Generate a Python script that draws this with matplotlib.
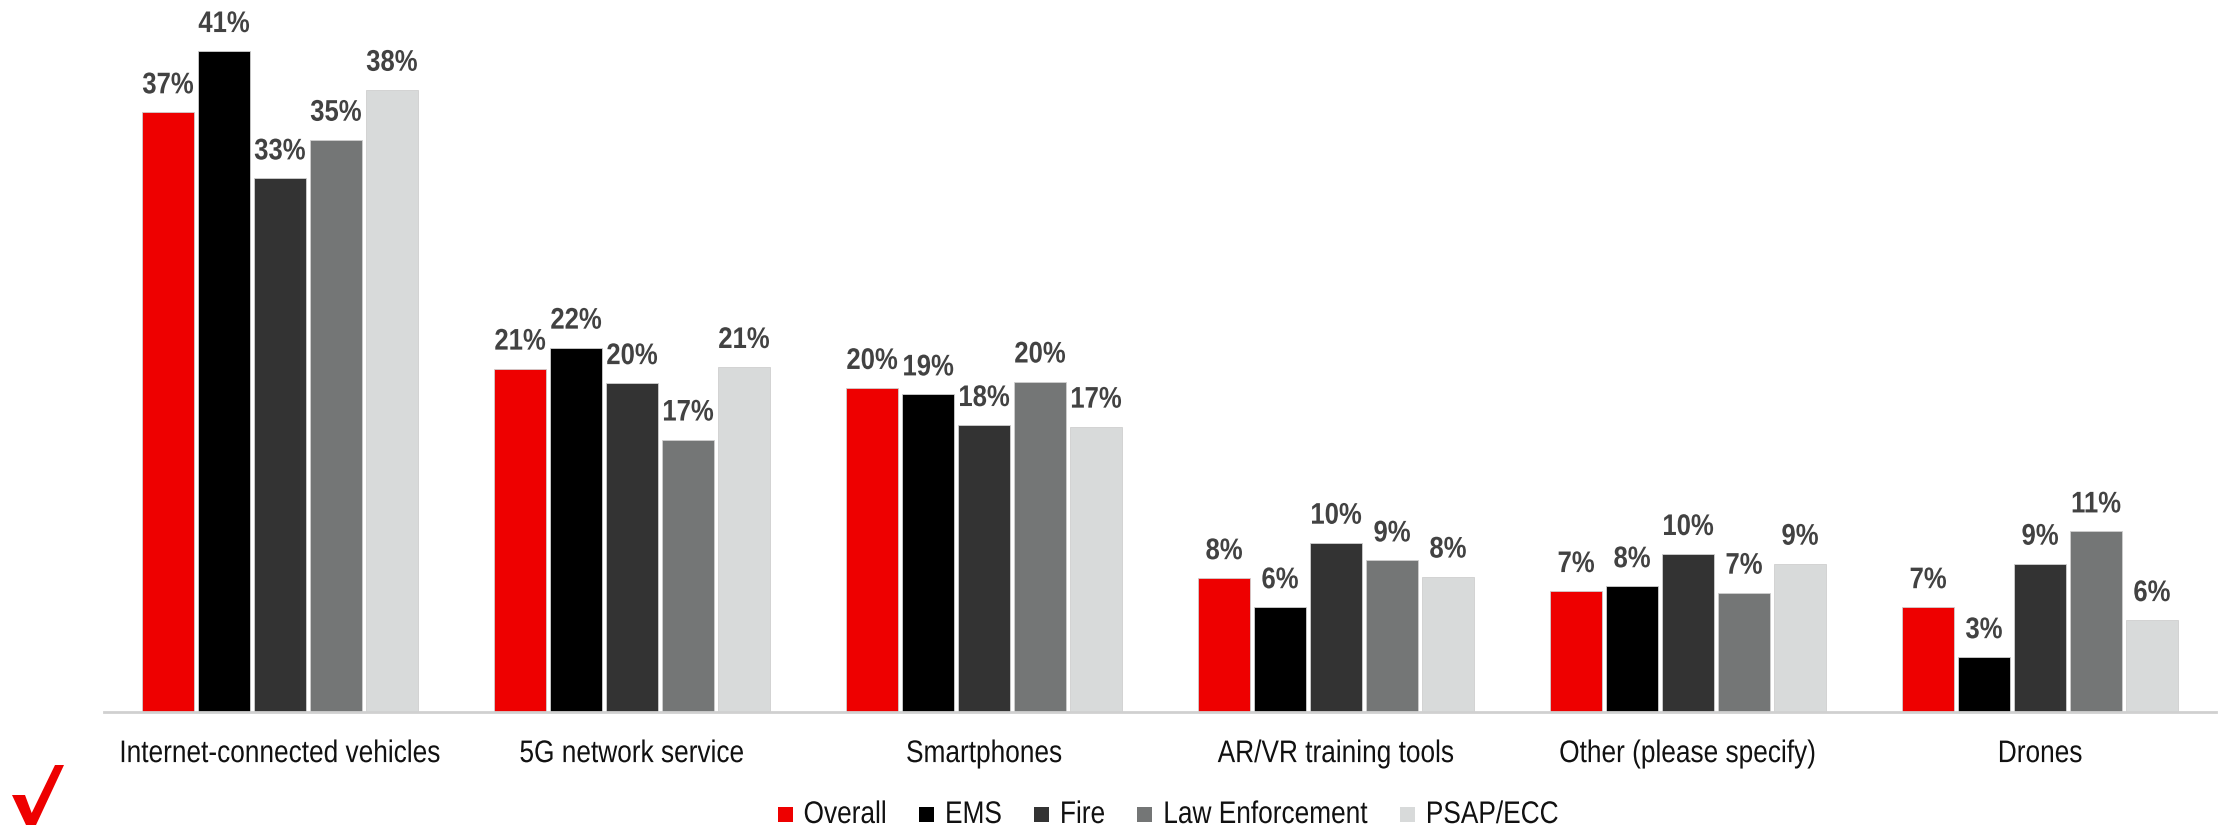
import matplotlib
matplotlib.use("Agg")
import matplotlib.pyplot as plt
from matplotlib.patches import Polygon, Rectangle
from matplotlib.patheffects import AbstractPathEffect
from matplotlib.transforms import Affine2D
import numpy as np

categories = ["Internet-connected vehicles", "5G network service", "Smartphones",
              "AR/VR training tools", "Other (please specify)", "Drones"]
series_names = ["Overall", "EMS", "Fire", "Law Enforcement", "PSAP/ECC"]
overall = [37.2, 21.3, 20.1, 8.3, 7.5, 6.5]
ems = [41.0, 22.6, 19.7, 6.5, 7.8, 3.4]
fire = [33.1, 20.4, 17.8, 10.5, 9.8, 9.2]
law = [35.5, 16.9, 20.5, 9.4, 7.4, 11.2]
psap = [38.6, 21.4, 17.7, 8.4, 9.2, 5.7]
labels_overall = ["37%", "21%", "20%", "8%", "7%", "7%"]
labels_ems = ["41%", "22%", "19%", "6%", "8%", "3%"]
labels_fire = ["33%", "20%", "18%", "10%", "10%", "9%"]
labels_law = ["35%", "17%", "20%", "9%", "7%", "11%"]
labels_psap = ["38%", "21%", "17%", "8%", "9%", "6%"]

series = [overall, ems, fire, law, psap]
series_labels = [labels_overall, labels_ems, labels_fire, labels_law, labels_psap]
colors = ["#EE0000", "#000000", "#333333", "#747676", "#D8DADA"]


class Condense(AbstractPathEffect):
    """Draw text horizontally condensed (emulates a narrow font face)."""

    def __init__(self, sx, anchor="center"):
        super().__init__()
        self.sx = sx
        self.anchor = anchor

    def draw_path(self, renderer, gc, tpath, affine, rgbFace=None):
        ext = tpath.get_extents()
        cx = (ext.x0 + ext.x1) / 2 if self.anchor == "center" else 0.0
        t = Affine2D().translate(-cx, 0).scale(self.sx, 1).translate(cx, 0) + affine
        renderer.draw_path(gc, tpath, t, rgbFace)


FONT = "Liberation Sans"
SX = 0.84

fig = plt.figure(figsize=(22.2, 8.26), dpi=100)
W, H = 2220, 826
ax = fig.add_axes([104 / W, 1 - 712 / H, 2112 / W, 712 / H])

x = np.arange(len(categories))
step = 0.159
bw = 0.150
for i, (vals, labs, c, nm) in enumerate(zip(series, series_labels, colors, series_names)):
    pos = x + (i - 2) * step
    ax.bar(pos, vals, width=bw, color=c, edgecolor="#cfcfcf", linewidth=0.6, label=nm, zorder=2)
    for px, v, lab in zip(pos, vals, labs):
        ax.annotate(lab, (px, v), xytext=(0, 13.7), textcoords="offset points",
                    ha="center", va="baseline", fontsize=21.5, fontweight="bold",
                    color="#424242", family=FONT, path_effects=[Condense(0.86)])

ax.set_xlim(-0.5, len(categories) - 0.5)
ax.set_ylim(0, 712 / 16.12)
ax.set_yticks([])
ax.set_xticks(x)
ax.set_xticklabels(categories, family=FONT, fontsize=22.5, color="#111111")
for t in ax.get_xticklabels():
    t.set_path_effects([Condense(SX)])
ax.tick_params(axis="x", length=0, pad=19.5)
for s in ["top", "right", "left"]:
    ax.spines[s].set_visible(False)
ax.spines["bottom"].set_color("#d0d0d0")
ax.spines["bottom"].set_linewidth(2)
ax.patch.set_alpha(0)

# Legend (manually laid out so the condensed text spacing matches)
renderer = fig.canvas.get_renderer()
widths = []
for name in series_names:
    tmp = fig.text(0, 0, name, family=FONT, fontsize=22.5)
    widths.append(tmp.get_window_extent(renderer).width * SX)
    tmp.remove()
total = sum(15 + 11 + w for w in widths) + 32 * (len(widths) - 1)
xl = 1168 - total / 2
for name, c, w in zip(series_names, colors, widths):
    fig.patches.append(Rectangle((xl / W, 1 - 822 / H), 15 / W, 15 / H,
                                 transform=fig.transFigure, facecolor=c, edgecolor="none"))
    fig.text((xl + 26) / W, 1 - 823 / H, name, family=FONT, fontsize=22.5, color="#111111",
             ha="left", va="baseline", path_effects=[Condense(SX, anchor="left")])
    xl += 26 + w + 32

# Verizon check mark logo (decoration)
pts = [(12, 795), (25, 795), (31.7, 813), (55, 765), (64, 765), (36, 825), (26, 825)]
poly = Polygon([(px / W, 1 - py / H) for px, py in pts], closed=True,
               transform=fig.transFigure, facecolor="#EE0000", edgecolor="none")
fig.patches.append(poly)

fig.savefig("out.png", dpi=100)
